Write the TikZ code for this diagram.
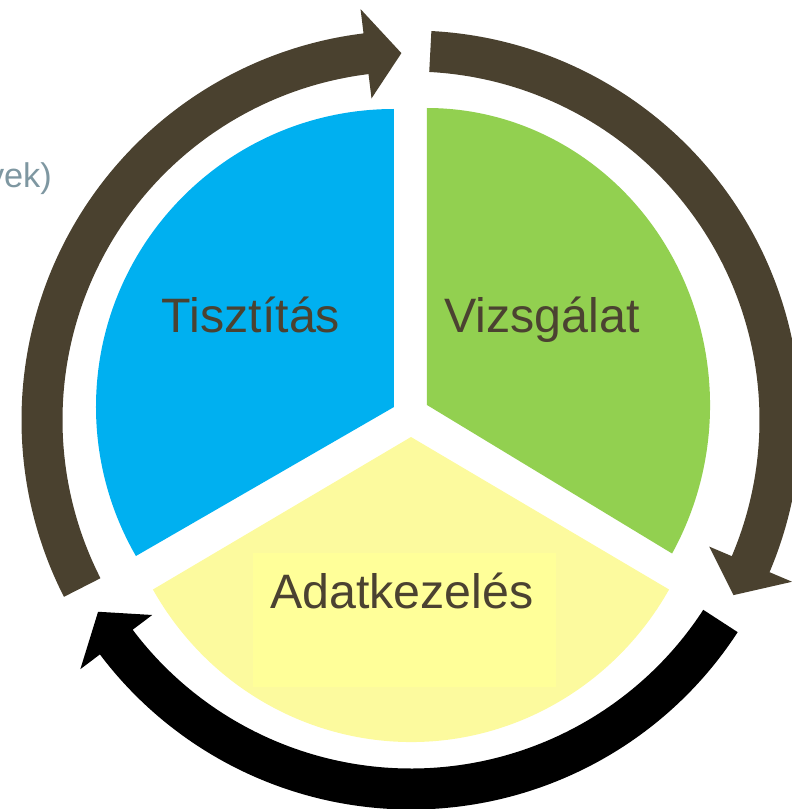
\documentclass[tikz,border=0pt]{standalone}
\usepackage{fontspec}
\setmainfont{Liberation Sans}
\usepackage{tikz}

\definecolor{tiszblue}{HTML}{00B0F0}
\definecolor{vizsgreen}{HTML}{92D050}
\definecolor{adatyellow}{HTML}{FCFA9E}
\definecolor{adatbox}{HTML}{FFFF99}
\definecolor{ringbrown}{HTML}{4A412F}
\definecolor{labelbrown}{HTML}{4B4231}
\definecolor{notegrey}{HTML}{7E97A1}

% ring arrow: colour, tail angle (head is 110 degrees further, clockwise)
\newcommand{\cyclearrow}[2]{%
  \fill[#1] (#2:389.5) arc[start angle=#2, end angle=#2-110, radius=389.5]
    -- (#2-110:414) -- (#2-115.5:367) -- (#2-110:324)
    -- (#2-110:348.5) arc[start angle=#2-110, end angle=#2, radius=348.5] -- cycle;}

\begin{document}
\begin{tikzpicture}[x=0.2mm, y=0.2mm]
		\useasboundingbox (-411,-389) rectangle (381,420);

		\tikzset{steplabel/.style={text=labelbrown, font=\fontsize{27.5}{32}\selectfont, anchor=base}}

		% a kor harom cikkelye
		\fill[tiszblue] (-17,13) -- ++(90:298) arc[start angle=90, end angle=210, radius=298] -- cycle;
		\fill[vizsgreen] (16,15) -- ++({283*cos(-30)},{297*sin(-30)}) arc[start angle=-30, end angle=90, x radius=283, y radius=297] -- cycle;
		\fill[adatyellow] (0,-17) -- ++({298*cos(210)},{305*sin(210)}) arc[start angle=210, end angle=330, x radius=298, y radius=305] -- cycle;
		\fill[adatbox] (-158,-133) rectangle (145,-267);

		% nyilak a kor korul
		\cyclearrow{ringbrown}{207}
		\cyclearrow{ringbrown}{87}
		\cyclearrow{black}{-33}

		% feliratok
		\node[steplabel] (tisz) at (-160,87) {Tisztítás};
		\node[steplabel] (vizsg) at (131,87) {Vizsgálat};
		\node[steplabel] (adat) at (-9,-188) {Adatkezelés};
		\node[text=notegrey, font=\fontsize{19.5}{23}\selectfont, anchor=base east] (megj) at (-353,232) {vek)};
	\end{tikzpicture}
\end{document}
